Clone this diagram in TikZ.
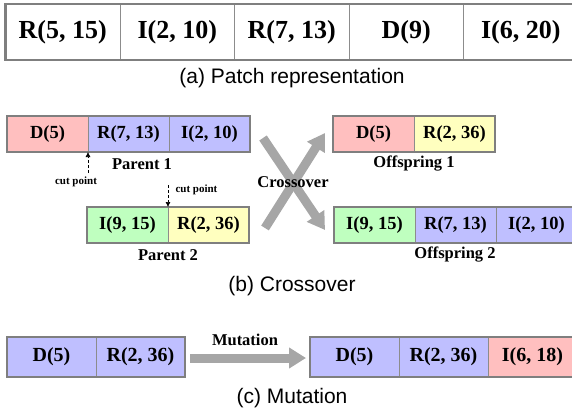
\documentclass[tikz,border=0pt]{standalone}
\usepackage{fontspec}
\setmainfont{Liberation Serif}
\newfontfamily\capfont{Liberation Sans}
\usetikzlibrary{positioning,arrows.meta}

\definecolor{geneblue}{HTML}{BFBFFF}
\definecolor{genered}{HTML}{FFBFBF}
\definecolor{genegreen}{HTML}{BFFFBF}
\definecolor{geneyellow}{HTML}{FFFFBF}
\definecolor{linegray}{HTML}{8C8C8C}
\definecolor{framegray}{HTML}{7F7F7F}
\definecolor{arrowgray}{HTML}{A6A6A6}

\begin{document}
\begin{tikzpicture}[x=1pt,y=-1pt,
    gene/.style={draw=linegray, line width=0.7pt, outer sep=0pt, inner sep=0pt,
      minimum width=81pt, minimum height=36pt, font=\fontsize{18.5}{20}\selectfont\bfseries},
    topgene/.style={gene, fill=white, minimum width=114.5pt, minimum height=56pt,
      font=\fontsize{26}{28}\selectfont\bfseries},
    mutgene/.style={gene, minimum width=89pt, minimum height=40pt,
      font=\fontsize{20}{22}\selectfont\bfseries},
    frame/.style={draw=framegray, line width=2.4pt},
    label/.style={font=\fontsize{16.5}{18}\selectfont\bfseries},
    cutlabel/.style={font=\fontsize{11}{12}\selectfont\bfseries},
    cutarrow/.style={dash pattern=on 3pt off 2pt, line width=0.6pt, -{Latex[length=5pt,width=5pt]}},
    bigarrow/.style={draw=arrowgray, line width=9pt, -{Triangle[length=17pt,width=20pt]}},
    caption/.style={font=\capfont\fontsize{21}{24}\selectfont}]
  \clip (0,0) rectangle (572,412);

  % (a) patch representation
  \node[topgene, anchor=west] (t1) at (5.5,32) {R(5, 15)};
  \node[topgene, right=0pt of t1] (t2) {I(2, 10)};
  \node[topgene, right=0pt of t2] (t3) {R(7, 13)};
  \node[topgene, right=0pt of t3] (t4) {D(9)};
  \node[topgene, right=0pt of t4] (t5) {I(6, 20)};
  \draw[frame] (t1.north west) rectangle (t5.south east);
  \node[caption] (capa) at (292,78) {(a) Patch representation};

  % (b) crossover
  \node[gene, fill=genered, anchor=west] (p1a) at (7,134) {D(5)};
  \node[gene, fill=geneblue, right=0pt of p1a] (p1b) {R(7, 13)};
  \node[gene, fill=geneblue, right=0pt of p1b] (p1c) {I(2, 10)};
  \draw[frame] (p1a.north west) rectangle (p1c.south east);
  \node[label] (par1) at (142,164) {Parent 1};

  \node[gene, fill=genegreen, anchor=west] (p2a) at (87,225) {I(9, 15)};
  \node[gene, fill=geneyellow, right=0pt of p2a] (p2b) {R(2, 36)};
  \draw[frame] (p2a.north west) rectangle (p2b.south east);
  \node[label] (par2) at (168,255) {Parent 2};

  \coordinate (cut1) at (88,173);
  \draw[cutarrow] (cut1) -- (p1a.south east);
  \node[cutlabel] (cutlab1) at (76,182) {cut point};
  \coordinate (cut2) at (168,185);
  \draw[cutarrow] (cut2) -- (p2a.north east);
  \node[cutlabel, anchor=west] (cutlab2) at (172,190) {cut point};

  \node[gene, fill=genered, anchor=west] (o1a) at (333,134) {D(5)};
  \node[gene, fill=geneyellow, right=0pt of o1a] (o1b) {R(2, 36)};
  \draw[frame] (o1a.north west) rectangle (o1b.south east);
  \node[label] (off1) at (414,164) {Offspring 1};

  \node[gene, fill=genegreen, anchor=west] (o2a) at (334,225) {I(9, 15)};
  \node[gene, fill=geneblue, right=0pt of o2a] (o2b) {R(7, 13)};
  \node[gene, fill=geneblue, right=0pt of o2b] (o2c) {I(2, 10)};
  \draw[frame] (o2a.north west) rectangle (o2c.south east);
  \node[label] (off2) at (455,255) {Offspring 2};

  \coordinate (xa) at (263,138);
  \coordinate (xb) at (325,230);
  \coordinate (xc) at (265,228);
  \coordinate (xd) at (325,133);
  \draw[bigarrow] (xa) -- (xb);
  \draw[bigarrow] (xc) -- (xd);
  \node[label] (cross) at (293,182) {Crossover};
  \node[caption] (capb) at (292,286) {(b) Crossover};

  % (c) mutation
  \node[mutgene, fill=geneblue, anchor=west] (m1a) at (7,357) {D(5)};
  \node[mutgene, fill=geneblue, right=0pt of m1a] (m1b) {R(2, 36)};
  \draw[frame] (m1a.north west) rectangle (m1b.south east);

  \node[mutgene, fill=geneblue, anchor=west] (m2a) at (310,357) {D(5)};
  \node[mutgene, fill=geneblue, right=0pt of m2a] (m2b) {R(2, 36)};
  \node[mutgene, fill=genered, right=0pt of m2b] (m2c) {I(6, 18)};
  \draw[frame] (m2a.north west) rectangle (m2c.south east);

  \coordinate (mstart) at (190,358);
  \coordinate (mend) at (306,358);
  \draw[bigarrow] (mstart) -- (mend);
  \node[label] (mut) at (245,340) {Mutation};
  \node[caption] (capc) at (292,398) {(c) Mutation};
\end{tikzpicture}
\end{document}
